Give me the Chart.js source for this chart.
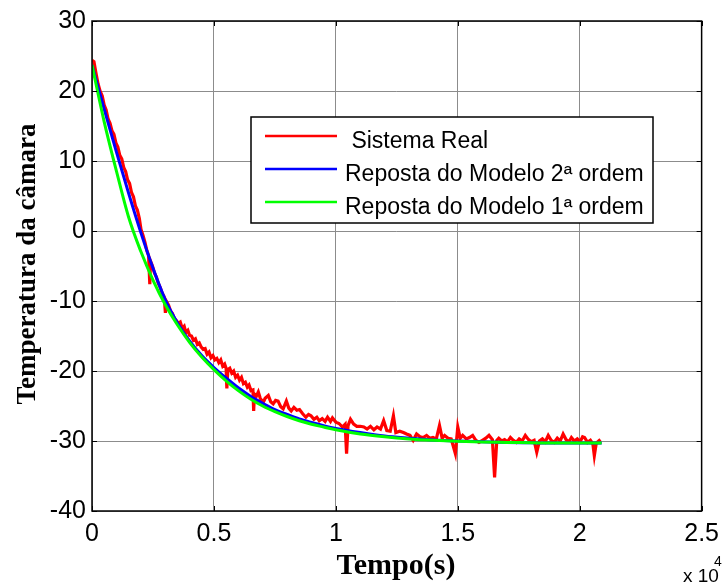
<!DOCTYPE html>
<html>
<head>
<meta charset="utf-8">
<script src="https://cdn.jsdelivr.net/npm/chart.js"></script>
<style>
  html, body { margin: 0; padding: 0; background: #fff; }
  canvas { display: block; }
</style>
</head>
<body>
<canvas id="c" width="727" height="585"></canvas>
<script>
// measured chamber temperature (s, degC)
const realTime = [
  0, 80, 160, 250, 330, 420, 500, 580, 660, 740, 820, 900, 980, 1060, 1140, 1220,
  1300, 1380, 1460, 1540, 1620, 1700, 1780, 1860, 1940, 2010, 2090, 2170, 2250, 2320,
  2370, 2400, 2480, 2560, 2640, 2720, 2800, 2880, 2960, 3010, 3060, 3140, 3220, 3300,
  3380, 3460, 3540, 3620, 3700, 3780, 3850, 3930, 4000, 4080, 4160, 4240, 4320, 4400,
  4480, 4560, 4640, 4720, 4800, 4880, 4960, 5040, 5120, 5200, 5280, 5360, 5440, 5500,
  5530, 5570, 5650, 5730, 5810, 5890, 5970, 6050, 6130, 6210, 6290, 6370, 6440, 6520,
  6600, 6630, 6660, 6740, 6820, 6900, 7020, 7100, 7230, 7330, 7430, 7530, 7630, 7740,
  7840, 7970, 8070, 8170, 8280, 8400, 8510, 8640, 8770, 8880, 8980, 9100, 9220, 9320,
  9440, 9560, 9660, 9780, 9860, 9930, 10000, 10130, 10270, 10380, 10440, 10500, 10600, 10730,
  10860, 11000, 11150, 11280, 11420, 11560, 11690, 11830, 11960, 12090, 12230, 12360, 12460, 12620,
  12770, 12900, 13040, 13170, 13310, 13450, 13580, 13720, 13850, 13980, 14120, 14250, 14360, 14460,
  14600, 14730, 14900, 15000, 15100, 15200, 15350, 15480, 15610, 15740, 15870, 16010, 16150, 16280,
  16420, 16510, 16600, 16680, 16800, 16920, 17040, 17160, 17280, 17400, 17520, 17640, 17770, 17900,
  18020, 18130, 18240, 18350, 18470, 18590, 18710, 18830, 18950, 19080, 19200, 19320, 19440, 19560,
  19660, 19780, 19900, 20020, 20120, 20200, 20320, 20440, 20540, 20600, 20680, 20780, 20850
];
const realTemp = [
  24.4, 24.2, 22.6, 21.0, 20.0, 19.3, 18.0, 17.3, 16.0, 15.4, 14.3, 13.8, 12.6, 12.0, 10.8, 10.3,
  9.1, 8.5, 7.3, 6.8, 5.5, 4.9, 3.6, 3.0, 1.8, 0.2, -0.6, -1.6, -2.8, -3.5,
  -7.6, -4.3, -5.0, -6.0, -6.6, -7.5, -8.1, -8.9, -9.4, -11.7, -10.1, -10.6, -11.4, -11.8,
  -12.5, -12.8, -13.2, -13.0, -13.9, -13.6, -14.5, -14.2, -14.9, -15.0, -15.6, -15.4, -16.2, -16.0,
  -16.6, -16.9, -16.8, -17.6, -17.3, -18.1, -17.8, -18.4, -18.2, -18.8, -18.4, -19.3, -19.0, -19.6,
  -22.5, -19.8, -19.6, -20.3, -20.0, -20.9, -20.6, -21.3, -20.9, -21.8, -21.6, -22.3, -22.0, -22.8,
  -22.7, -25.7, -23.3, -23.6, -23.0, -23.9, -24.5, -23.9, -23.5, -24.4, -24.7, -24.2, -24.3, -25.1,
  -25.4, -24.3, -25.3, -25.7, -25.2, -25.6, -25.5, -26.1, -26.6, -26.2, -26.4, -26.9, -26.6, -27.1,
  -26.8, -27.2, -26.6, -27.2, -26.7, -27.0, -27.3, -27.5, -28.0, -27.6, -31.8, -27.8, -26.9, -27.6,
  -27.9, -27.9, -28.0, -28.3, -27.9, -28.4, -28.0, -28.3, -27.1, -28.5, -28.6, -26.4, -28.8, -28.6,
  -28.8, -29.0, -29.2, -29.9, -29.0, -29.4, -29.5, -29.2, -29.6, -29.5, -29.7, -27.8, -29.6, -29.2,
  -29.6, -29.7, -31.8, -28.0, -29.6, -29.2, -29.7, -29.5, -29.2, -29.9, -30.2, -29.9, -29.6, -29.2,
  -29.8, -35.2, -29.9, -29.6, -30.0, -29.8, -30.1, -29.5, -29.9, -30.2, -29.7, -30.0, -29.2, -29.8,
  -30.1, -29.9, -31.6, -30.0, -29.7, -30.1, -29.2, -29.9, -30.2, -29.6, -30.0, -29.0, -29.8, -30.1,
  -29.5, -30.0, -29.7, -30.1, -29.4, -29.5, -30.2, -29.9, -30.4, -32.1, -30.3, -30.0, -29.8
];

// model responses
const modelTime = [
  0, 500, 1000, 1500, 2000, 2500, 3000, 3500, 4000, 4500, 5000, 5500, 6000, 6500, 7000, 7500,
  8000, 8500, 9000, 9500, 10000, 11000, 12000, 13000, 14000, 15000, 16000, 17000, 18000, 19000,
  20000, 20900
];
const model2Temp = [
  23.7, 17.4, 11.3, 5.4, -0.2, -5.3, -9.8, -13.1, -15.7, -17.8, -19.5, -21.0, -22.4, -23.6, -24.6, -25.5,
  -26.2, -26.85, -27.35, -27.8, -28.2, -28.8, -29.3, -29.6, -29.85, -30.0, -30.1, -30.2, -30.25, -30.3,
  -30.3, -30.3
];
const model1Temp = [
  23.7, 15.6, 8.6, 2.0, -2.9, -7.0, -10.5, -13.4, -15.9, -18.0, -19.8, -21.4, -22.8, -24.0, -25.0, -25.8,
  -26.5, -27.1, -27.6, -28.0, -28.4, -29.0, -29.4, -29.7, -29.9, -30.05, -30.15, -30.2, -30.25, -30.3,
  -30.3, -30.3
];

const seriesLabels = [' Sistema Real', 'Reposta do Modelo 2ª ordem', 'Reposta do Modelo 1ª ordem'];
const xTicks = [0, 5000, 10000, 15000, 20000, 25000];
const yTicks = [-40, -30, -20, -10, 0, 10, 20, 30];

const pts = (xs, ys) => xs.map((x, i) => ({ x: x, y: ys[i] }));

const narrow = "'Liberation Sans Narrow', 'Arial Narrow', 'Liberation Sans', sans-serif";
const tickFont = { family: narrow, size: 25 };

// frame, inward ticks, legend and axis titles
const matlabAxes = {
  id: 'matlabAxes',
  afterDraw(chart) {
    const ctx = chart.ctx;
    const a = chart.chartArea;
    const xs = chart.scales.x, ys = chart.scales.y;
    ctx.save();
    ctx.strokeStyle = '#000';
    ctx.lineWidth = 1.5;
    ctx.strokeRect(a.left, a.top, a.right - a.left, a.bottom - a.top);
    ctx.lineWidth = 1;
    ctx.beginPath();
    xTicks.forEach(v => {
      const px = Math.round(xs.getPixelForValue(v)) + 0.5;
      ctx.moveTo(px, a.bottom); ctx.lineTo(px, a.bottom - 5);
      ctx.moveTo(px, a.top); ctx.lineTo(px, a.top + 5);
    });
    yTicks.forEach(v => {
      const py = Math.round(ys.getPixelForValue(v)) + 0.5;
      ctx.moveTo(a.left, py); ctx.lineTo(a.left + 5, py);
      ctx.moveTo(a.right, py); ctx.lineTo(a.right - 5, py);
    });
    ctx.stroke();

    // legend
    const lx = 251, ly = 117, lw = 402, lh = 106;
    ctx.fillStyle = '#fff';
    ctx.fillRect(lx, ly, lw, lh);
    ctx.lineWidth = 1.5;
    ctx.strokeRect(lx, ly, lw, lh);
    const rows = [136, 169, 202];
    ctx.font = "23px 'Liberation Sans', Arial, sans-serif";
    ctx.textBaseline = 'alphabetic';
    ctx.textAlign = 'left';
    chart.data.datasets.forEach((ds, i) => {
      ctx.strokeStyle = ds.borderColor;
      ctx.lineWidth = 2.5;
      ctx.beginPath();
      ctx.moveTo(265, rows[i]); ctx.lineTo(337, rows[i]);
      ctx.stroke();
      ctx.fillStyle = '#000';
      ctx.fillText(ds.label, 345, rows[i] + 11.5);
    });

    // axis titles
    ctx.fillStyle = '#000';
    ctx.font = "bold 30px 'Liberation Serif', 'Times New Roman', serif";
    ctx.textAlign = 'center';
    ctx.fillText('Tempo(s)', 396, 574);
    ctx.save();
    ctx.translate(35, 264);
    ctx.rotate(-Math.PI / 2);
    ctx.font = "bold 27px 'Liberation Serif', 'Times New Roman', serif";
    ctx.fillText('Temperatura da câmara', 0, 0);
    ctx.restore();

    // exponent of the x axis
    ctx.textAlign = 'left';
    ctx.font = '19px ' + narrow;
    ctx.fillText('x 10', 683, 582);
    ctx.font = '14px ' + narrow;
    ctx.fillText('4', 714, 566);
    ctx.restore();
  }
};

new Chart(document.getElementById('c'), {
  type: 'line',
  data: {
    datasets: [
      {
        label: seriesLabels[0],
        data: pts(realTime, realTemp),
        borderColor: '#ff0000',
        borderWidth: 3.2,
        pointRadius: 0,
        tension: 0,
        order: 3,
      },
      {
        label: seriesLabels[1],
        data: pts(modelTime, model2Temp),
        borderColor: '#0000ff',
        borderWidth: 3,
        pointRadius: 0,
        cubicInterpolationMode: 'monotone',
        order: 2,
      },
      {
        label: seriesLabels[2],
        data: pts(modelTime, model1Temp),
        borderColor: '#00ff00',
        borderWidth: 3,
        pointRadius: 0,
        cubicInterpolationMode: 'monotone',
        order: 1,
      },
    ],
  },
  options: {
    responsive: false,
    animation: false,
    layout: { padding: { left: 0, top: 18, right: 19, bottom: 0 } },
    plugins: { legend: { display: false }, tooltip: { enabled: false } },
    scales: {
      x: {
        type: 'linear',
        min: 0,
        max: 25000,
        afterBuildTicks: s => { s.ticks = xTicks.map(v => ({ value: v })); },
        afterFit: s => { s.height = 74; },
        grid: { color: '#8c8c8c', lineWidth: 1, drawTicks: false },
        border: { display: false },
        ticks: {
          color: '#000',
          font: tickFont,
          padding: 8,
          maxRotation: 0,
          callback: v => String(v / 10000),
        },
      },
      y: {
        type: 'linear',
        min: -40,
        max: 30,
        afterBuildTicks: s => { s.ticks = yTicks.map(v => ({ value: v })); },
        afterFit: s => { s.width = 92; },
        grid: { color: '#8c8c8c', lineWidth: 1, drawTicks: false },
        border: { display: false },
        ticks: { color: '#000', font: tickFont, padding: 6 },
      },
    },
  },
  plugins: [matlabAxes],
});
</script>
</body>
</html>
